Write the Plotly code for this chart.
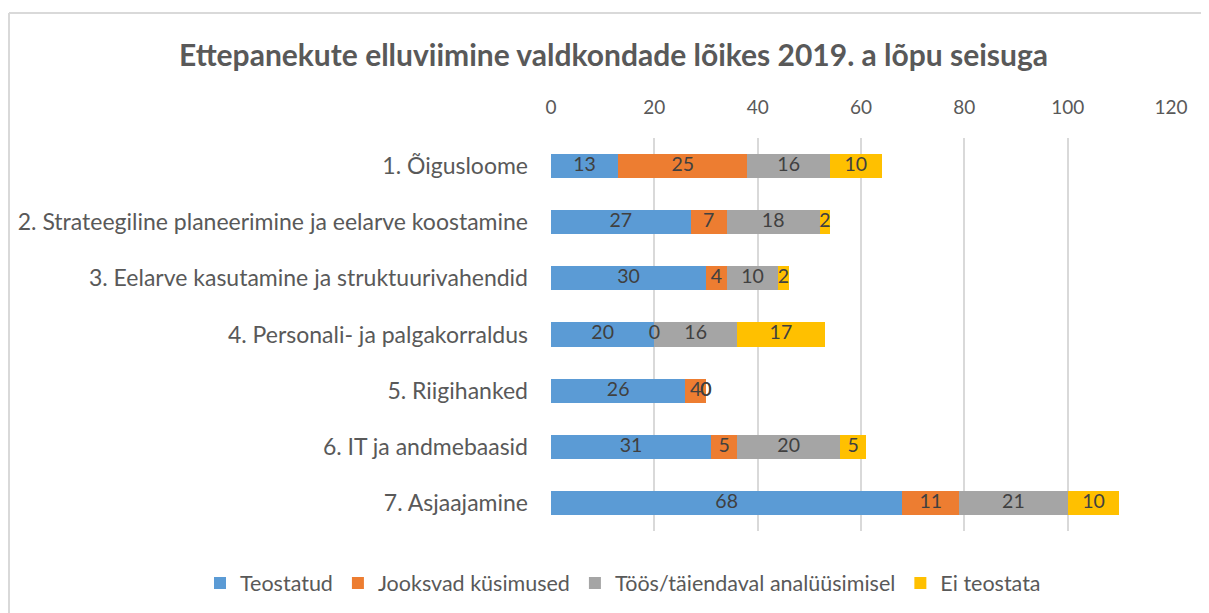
import plotly.graph_objects as go

categories = [
    "1. Õigusloome",
    "2. Strateegiline planeerimine ja eelarve koostamine",
    "3. Eelarve kasutamine ja struktuurivahendid",
    "4. Personali- ja palgakorraldus",
    "5. Riigihanked",
    "6. IT ja andmebaasid",
    "7. Asjaajamine",
]
series_names = ["Teostatud", "Jooksvad küsimused", "Töös/täiendaval analüüsimisel", "Ei teostata"]
teostatud = [13, 27, 30, 20, 26, 31, 68]
jooksvad = [25, 7, 4, 0, 4, 5, 11]
toos = [16, 18, 10, 16, 0, 20, 21]
ei_teostata = [10, 2, 2, 17, 0, 5, 10]
x_ticks = [0, 20, 40, 60, 80, 100, 120]

colors = ["#5B9BD5", "#ED7D31", "#A5A5A5", "#FFC000"]
FONT = "Lato"
W, H = 1201, 605
L, R, T, B = 543, 38, 130, 82
PW, PH = W - L - R, H - T - B

fig = go.Figure()
all_series = [teostatud, jooksvad, toos, ei_teostata]
for name, vals, col in zip(series_names, all_series, colors):
    fig.add_trace(go.Bar(
        y=categories, x=vals, name=name, orientation="h",
        marker=dict(color=col, line=dict(width=0)),
        hoverinfo="x+name",
    ))

# data labels centred in each segment (computed from the data)
base = [0] * len(categories)
for vals in all_series:
    mids = [b + v / 2 for b, v in zip(base, vals)]
    fig.add_trace(go.Scatter(
        y=categories, x=mids, mode="text", text=[str(v) for v in vals],
        textposition="middle center", showlegend=False, hoverinfo="skip",
        textfont=dict(family=FONT, size=19.5, color="#404040"), cliponaxis=False,
    ))
    base = [b + v for b, v in zip(base, vals)]

fig.update_layout(
    width=W, height=H,
    barmode="stack", bargap=0.57,
    paper_bgcolor="white", plot_bgcolor="white",
    margin=dict(l=L, r=R, t=T, b=B, autoexpand=False),
    title=dict(text="<b>Ettepanekute elluviimine valdkondade lõikes 2019. a lõpu seisuga</b>",
               x=605.5 / W, xanchor="center", y=1 - 47 / H, yanchor="middle", yref="container",
               font=dict(family=FONT, size=30, color="#595959")),
    xaxis=dict(side="top", range=[0, 120], tickvals=x_ticks, showgrid=True,
               gridcolor="#D9D9D9", gridwidth=1.5, zeroline=False, showline=False,
               tickfont=dict(family=FONT, size=19, color="#595959"), ticks="", ticklabelstandoff=19),
    yaxis=dict(autorange="reversed", showgrid=False, showline=False, ticks="",
               tickfont=dict(family=FONT, size=23, color="#595959"), ticklabelstandoff=22),
    legend=dict(orientation="h", x=(192 - L) / PW, xanchor="left",
                y=-(575 - T - PH) / PH, yanchor="middle",
                font=dict(family=FONT, size=21.5, color="#595959"), traceorder="normal",
                itemwidth=30),
    font=dict(family=FONT),
    showlegend=True,
    shapes=[
        dict(type="line", xref="paper", yref="paper", x0=(1 - L) / PW, x1=(W + 5 - L) / PW,
             y0=(T + PH - 5) / PH, y1=(T + PH - 5) / PH, line=dict(color="#D9D9D9", width=2)),
        dict(type="line", xref="paper", yref="paper", x0=(1 - L) / PW, x1=(1 - L) / PW,
             y0=(T + PH - 5) / PH, y1=-(B + 5) / PH, line=dict(color="#D9D9D9", width=2)),
    ],
)

fig.write_html("out.html")
